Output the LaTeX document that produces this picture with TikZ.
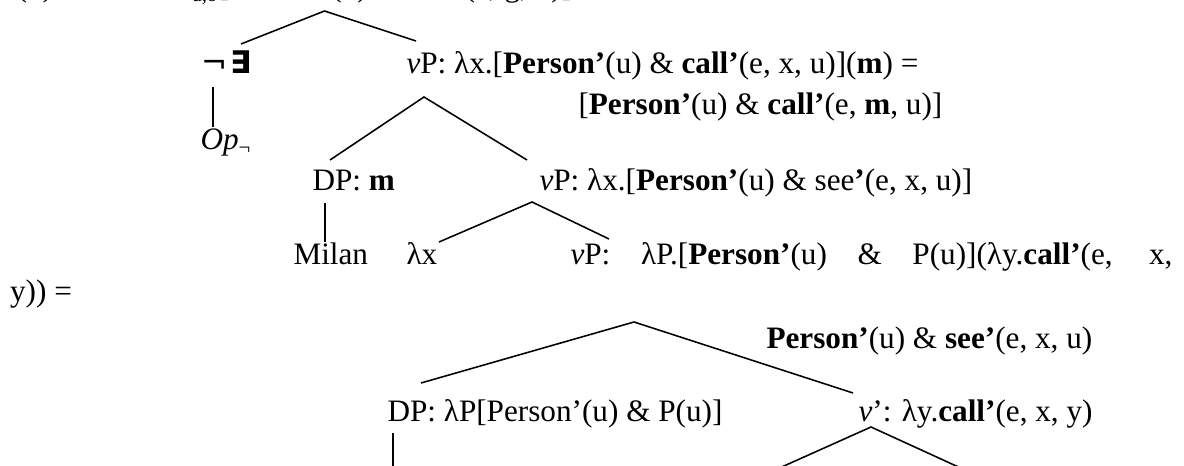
\documentclass[tikz,border=0pt]{standalone}
\usepackage{fontspec}
\setmainfont{Liberation Serif}
\newfontfamily\symfont{DejaVu Sans}
\newcommand{\Prs}{\textbf{Person’}}
\newcommand{\Cll}{\textbf{call’}}
\tikzset{
  lbl/.style={anchor=base west, inner sep=0pt, font=\fontsize{12}{14}\selectfont},
  branch/.style={line width=0.6pt},
}

\begin{document}
\begin{tikzpicture}[x=0.3846pt, y=-0.3846pt]
\useasboundingbox (0,0) rectangle (1184,466);
\fill[white] (0,0) rectangle (1184,466);
\clip (0,0) rectangle (1184,466);

% Root line (cut at the top)
\node[lbl] (exno) at (16,-3) {(9)};
\node[lbl, anchor=base east] (quant) at (192,-3) {{\symfont ¬}\textbf{\symfont ∃}};
\node[lbl] (root) at (192,-3) {\textsubscript{a,o}[\Prs(u) \& \Cll(e, g, u)]};
\coordinate (r) at (324.5,11);
\coordinate (r-l) at (241,44);
\coordinate (r-r) at (416,41);
\draw[branch] (r-l) -- (r) -- (r-r);

% Negation
\node[lbl] (neg) at (201,74) {{\symfont ¬}\hspace{1pt}{\symfont\bfseries ∃}};
\node[lbl] (op) at (200,150) {\textit{Op}\textsubscript{¬}};
\coordinate (neg-b) at (213,87);
\coordinate (op-t) at (213,127);
\draw[branch] (neg-b) -- (op-t);

% Upper vP
\node[lbl] (vpa) at (406,74) {\textit{v}P: λx.[\Prs(u) \& \Cll(e, x, u)](\textbf{m}) =};
\node[lbl] (vpa2) at (578,115) {[\Prs(u) \& \Cll(e, \textbf{m}, u)]};
\coordinate (a) at (424,97);
\coordinate (a-l) at (330,160);
\coordinate (a-r) at (527,160);
\draw[branch] (a-l) -- (a) -- (a-r);

% Subject and lower vP
\node[lbl] (dpm) at (312,191) {DP: \textbf{m}};
\node[lbl] (vpb) at (539,191) {\textit{v}P: λx.[\Prs(u) \& see\textbf{’}(e, x, u)]};
\coordinate (dpm-b) at (325,203);
\coordinate (milan-t) at (325,242);
\draw[branch] (dpm-b) -- (milan-t);
\node[lbl] (milan) at (293,265) {Milan};
\node[lbl] (lam) at (406,265) {λx};
\coordinate (b) at (532,202);
\coordinate (b-l) at (439,242);
\coordinate (b-r) at (609,239);
\draw[branch] (b-l) -- (b) -- (b-r);

% Lambda-abstracted vP
\node[lbl] (vpc) at (570,265) {\makebox[231.5pt][s]{\textit{v}P: λP.[\Prs(u) \& P(u)](λy.\Cll(e, x,}};
\node[lbl] (vpc2) at (9.6,302) {y)) =};
\node[lbl] (vpc3) at (766,349) {\Prs(u) \& \textbf{see’}(e, x, u)};
\coordinate (c) at (634,322);
\coordinate (c-l) at (421,383);
\coordinate (c-r) at (853,393);
\draw[branch] (c-l) -- (c) -- (c-r);

% Object DP and v'
\node[lbl] (dpp) at (387,421) {DP: λP[Person’(u) \& P(u)]};
\node[lbl] (vbar) at (858,421) {\textit{v}’: λy.\Cll(e, x, y)};
\coordinate (dpp-b) at (393,433);
\coordinate (dpp-d) at (393,470);
\draw[branch] (dpp-b) -- (dpp-d);
\coordinate (d) at (871,427);
\coordinate (d-l) at (775,470);
\coordinate (d-r) at (965,470);
\draw[branch] (d-l) -- (d) -- (d-r);
\end{tikzpicture}
\end{document}
